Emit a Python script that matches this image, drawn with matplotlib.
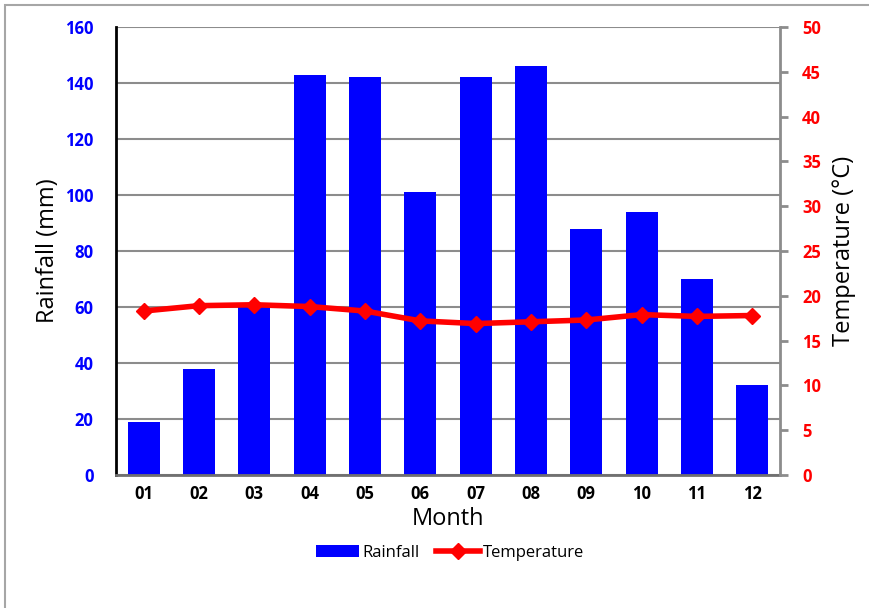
import matplotlib
matplotlib.use('Agg')
import matplotlib.pyplot as plt
from matplotlib.patches import Rectangle, Patch
from matplotlib.lines import Line2D
import numpy as np

months = ['01', '02', '03', '04', '05', '06', '07', '08', '09', '10', '11', '12']
rainfall = [19, 38, 61, 143, 142, 101, 142, 146, 88, 94, 70, 32]
temperature = [18.3, 18.9, 19.0, 18.8, 18.3, 17.2, 16.9, 17.1, 17.3, 17.9, 17.7, 17.8]

plt.rcParams['font.family'] = ['Open Sans', 'DejaVu Sans']

fig = plt.figure(figsize=(8.7, 6.08), dpi=100)
ax = fig.add_axes([116 / 870, 133 / 608, 664 / 870, 448 / 608])

# figure border (only left and top visible in the reference)
fig.patches.append(Rectangle((5 / 870, -0.1), 1.2, 0.1 + 603 / 608, transform=fig.transFigure,
                             fill=False, edgecolor='#a6a6a6', linewidth=1.5, zorder=0))

x = np.arange(len(months))
ax.bar(x, rainfall, width=0.58, color='#0000ff', zorder=2)
ax.set_xlim(-0.5, len(months) - 0.5)
ax.set_ylim(0, 160)
ax.set_yticks(range(0, 161, 20))
ax.set_xticks(x)
ax.set_xticklabels(months)
ax.grid(axis='y', color='#8c8c8c', linewidth=1.5, zorder=0)
ax.set_axisbelow(True)

ax.spines['top'].set_visible(False)
ax.spines['right'].set_visible(False)
ax.spines['left'].set_color('black')
ax.spines['left'].set_linewidth(2)
ax.spines['bottom'].set_color('#707070')
ax.spines['bottom'].set_linewidth(2)

ax.tick_params(axis='y', length=0, pad=16, labelsize=12, labelcolor='#0000ff')
ax.tick_params(axis='x', length=0, pad=7, labelsize=12)
for lbl in ax.get_yticklabels() + ax.get_xticklabels():
    lbl.set_fontweight('bold')

ax.set_ylabel('Rainfall (mm)', fontsize=17, labelpad=4)
ax.set_xlabel('Month', fontsize=17, labelpad=3)

ax2 = ax.twinx()
ax2.plot(x, temperature, color='#ff0000', linewidth=4, marker='D', markersize=8, zorder=3)
ax2.set_ylim(0, 50)
ax2.set_yticks(range(0, 51, 5))
for s in ['top', 'left', 'bottom']:
    ax2.spines[s].set_visible(False)
ax2.spines['right'].set_color('#8c8c8c')
ax2.spines['right'].set_linewidth(2)
ax2.tick_params(axis='y', length=6, width=2, color='#8c8c8c', pad=10, labelsize=12, labelcolor='#ff0000')
for lbl in ax2.get_yticklabels():
    lbl.set_fontweight('bold')
ax2.set_ylabel('Temperature (°C)', fontsize=17, labelpad=8)

handles = [Patch(facecolor='#0000ff', edgecolor='none'),
           Line2D([], [], color='#ff0000', linewidth=4, marker='D', markersize=8)]
fig.legend(handles, ['Rainfall', 'Temperature'], loc='center', bbox_to_anchor=(450 / 870, 55 / 608),
           ncol=2, frameon=False, fontsize=12, handlelength=2.6, handletextpad=0.2, columnspacing=1.0)

fig.savefig('out.png', dpi=100)
